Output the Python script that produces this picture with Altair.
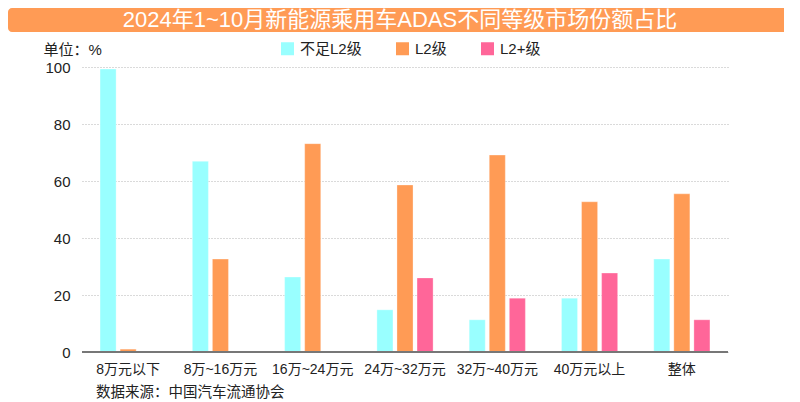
import altair as alt
import pandas as pd

categories = ["8万元以下", "8万~16万元", "16万~24万元", "24万~32万元", "32万~40万元", "40万元以上", "整体"]
series = ["不足L2级", "L2级", "L2+级"]
below_l2 = [99.3, 66.9, 26.3, 14.8, 11.3, 18.9, 32.6]
l2 = [1.0, 32.6, 73.1, 58.6, 69.1, 52.7, 55.5]
l2_plus = [0.0, 0.0, 0.0, 26.0, 18.9, 27.7, 11.3]
colors = ["#99FFFF", "#FF9B55", "#FF6699"]
y_ticks = [0, 20, 40, 60, 80, 100]
title_text = "2024年1~10月新能源乘用车ADAS不同等级市场份额占比"
source_text = "数据来源：中国汽车流通协会"

rows = []
for i, c in enumerate(categories):
    for s, vals in zip(series, [below_l2, l2, l2_plus]):
        rows.append({"cat": c, "series": s, "value": vals[i]})
df = pd.DataFrame(rows)

FONT = "Liberation Sans, Arial, Noto Sans CJK SC, sans-serif"
W, H = 646, 285

bars = alt.Chart(df).mark_bar(stroke="white", strokeWidth=0.5, strokeOpacity=0.6).encode(
    x=alt.X("cat:N", sort=categories, title=None,
            scale=alt.Scale(paddingInner=0, paddingOuter=0),
            axis=alt.Axis(labelAngle=0, ticks=False, domain=False, grid=False, labelPadding=10,
                          labelFontSize=14, labelColor="#222222", labelFont=FONT)),
    xOffset=alt.XOffset("series:N", sort=series,
                        scale=alt.Scale(paddingInner=0.2, paddingOuter=0.9)),
    y=alt.Y("value:Q", scale=alt.Scale(domain=[0, 100]),
            axis=alt.Axis(values=y_ticks, domain=False, ticks=False, labelPadding=12,
                          labelFontSize=15, labelColor="#222222", labelFont=FONT,
                          gridDash=[1, 2], gridColor="#B5B5B5", gridWidth=1,
                          title="单位：%", titleAngle=0, titleAlign="left",
                          titleBaseline="alphabetic", titleX=-39, titleY=-13,
                          titleFontSize=15, titleFontWeight="normal", titleColor="#222222",
                          titleFont=FONT)),
    color=alt.Color("series:N", sort=series,
                    scale=alt.Scale(domain=series, range=colors),
                    legend=alt.Legend(title=None, orient="none", direction="horizontal",
                                      legendX=198, legendY=-26, symbolType="square",
                                      symbolSize=169, symbolStrokeWidth=0,
                                      symbolOpacity=1, labelFontSize=15, labelFont=FONT,
                                      labelColor="#222222", columnPadding=33, labelOffset=5)),
)

baseline = alt.Chart(pd.DataFrame({"v": [0]})).mark_rule(color="#777777", strokeWidth=2).encode(
    y="v:Q", x=alt.value(0), x2=alt.value(W))

banner = alt.Chart(pd.DataFrame({"t": [title_text]})).mark_rect(
    color="#FF9B55", cornerRadius=4).encode(
    x=alt.value(-74), x2=alt.value(710), y=alt.value(-59), y2=alt.value(-35))

banner_text = alt.Chart(pd.DataFrame({"t": [title_text]})).mark_text(
    color="white", fontSize=22, font=FONT, align="center", baseline="middle").encode(
    text="t:N", x=alt.value(318), y=alt.value(-47))

source = alt.Chart(pd.DataFrame({"t": [source_text]})).mark_text(
    color="#222222", fontSize=14.5, font=FONT, align="left", baseline="middle").encode(
    text="t:N", x=alt.value(14), y=alt.value(326))

chart = alt.layer(bars, baseline, banner, banner_text, source).properties(
    width=W, height=H,
    autosize=alt.AutoSizeParams(type="none"),
    padding={"left": 74, "top": 59, "right": 56, "bottom": 50},
).configure(background="white").configure_view(stroke="transparent", strokeWidth=0)

chart.save("out.html", embed_options={"renderer": "svg", "actions": False})
